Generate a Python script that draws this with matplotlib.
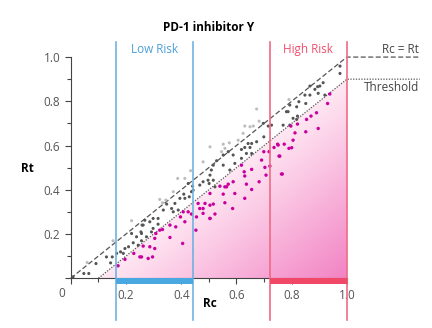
import matplotlib.pyplot as plt
import numpy as np
from matplotlib.colors import LinearSegmentedColormap
from matplotlib.patches import Polygon

plt.rcParams['font.family'] = ['Open Sans', 'DejaVu Sans']

# Points above the Rc = Rt line (light gray)
light_rc = [0.059, 0.153, 0.220, 0.322, 0.332, 0.344, 0.371, 0.387, 0.413, 0.434,
            0.479, 0.504, 0.546, 0.552, 0.558, 0.574, 0.606, 0.624, 0.630, 0.649,
            0.661, 0.673, 0.682, 0.790]
light_rt = [0.071, 0.169, 0.260, 0.356, 0.341, 0.353, 0.391, 0.451, 0.451, 0.486,
            0.526, 0.594, 0.572, 0.606, 0.587, 0.612, 0.624, 0.655, 0.688, 0.685,
            0.688, 0.765, 0.710, 0.808]

# Points between Rc = Rt and the threshold (dark gray)
dark_rc = [0.008, 0.047, 0.065, 0.091, 0.129, 0.144, 0.150, 0.166, 0.180, 0.190,
           0.196, 0.209, 0.220, 0.226, 0.238, 0.244, 0.254, 0.256, 0.258, 0.256,
           0.262, 0.268, 0.274, 0.286, 0.292, 0.298, 0.298, 0.316, 0.316, 0.335,
           0.347, 0.365, 0.371, 0.377, 0.389, 0.395, 0.409, 0.413, 0.425, 0.429,
           0.437, 0.441, 0.443, 0.467, 0.479, 0.497, 0.501, 0.504, 0.509, 0.516,
           0.516, 0.522, 0.528, 0.552, 0.552, 0.570, 0.576, 0.588, 0.594, 0.618,
           0.618, 0.630, 0.636, 0.642, 0.649, 0.655, 0.655, 0.673, 0.697, 0.699,
           0.715, 0.727, 0.769, 0.781, 0.787, 0.793, 0.793, 0.805, 0.818, 0.818,
           0.821, 0.826, 0.848, 0.851, 0.866, 0.866, 0.884, 0.894, 0.896, 0.902,
           0.914, 0.920, 0.975, 0.975]
dark_rt = [0.006, 0.021, 0.021, 0.066, 0.096, 0.069, 0.096, 0.112, 0.119, 0.112,
           0.134, 0.142, 0.202, 0.160, 0.187, 0.149, 0.209, 0.169, 0.240, 0.202,
           0.240, 0.262, 0.187, 0.255, 0.209, 0.270, 0.225, 0.270, 0.244, 0.308,
           0.335, 0.315, 0.300, 0.338, 0.308, 0.361, 0.380, 0.361, 0.428, 0.368,
           0.391, 0.416, 0.398, 0.421, 0.436, 0.443, 0.428, 0.466, 0.489, 0.511,
           0.443, 0.413, 0.531, 0.557, 0.511, 0.572, 0.489, 0.557, 0.519, 0.582,
           0.542, 0.591, 0.564, 0.609, 0.591, 0.609, 0.564, 0.617, 0.700, 0.639,
           0.688, 0.692, 0.692, 0.753, 0.753, 0.783, 0.692, 0.723, 0.775, 0.718,
           0.733, 0.798, 0.828, 0.790, 0.869, 0.828, 0.854, 0.866, 0.836, 0.869,
           0.884, 0.828, 0.959, 0.926]

# Points below the threshold (magenta)
mag_rc = [0.171, 0.196, 0.228, 0.250, 0.256, 0.262, 0.280, 0.286, 0.296, 0.304,
          0.304, 0.308, 0.322, 0.332, 0.359, 0.359, 0.380, 0.397, 0.405, 0.407,
          0.413, 0.425, 0.437, 0.453, 0.455, 0.461, 0.467, 0.479, 0.479, 0.486,
          0.504, 0.504, 0.504, 0.504, 0.516, 0.522, 0.540, 0.552, 0.558, 0.558,
          0.564, 0.570, 0.586, 0.588, 0.594, 0.618, 0.628, 0.630, 0.630, 0.636,
          0.655, 0.655, 0.682, 0.691, 0.699, 0.703, 0.707, 0.718, 0.721, 0.736,
          0.749, 0.751, 0.754, 0.757, 0.763, 0.766, 0.773, 0.790, 0.797, 0.800,
          0.805, 0.812, 0.821, 0.851, 0.854, 0.870, 0.890, 0.896, 0.930, 0.938]
mag_rt = [0.056, 0.085, 0.112, 0.096, 0.096, 0.145, 0.089, 0.142, 0.096, 0.180,
          0.134, 0.202, 0.217, 0.220, 0.240, 0.184, 0.232, 0.277, 0.157, 0.300,
          0.255, 0.300, 0.290, 0.217, 0.277, 0.338, 0.315, 0.315, 0.293, 0.338,
          0.330, 0.270, 0.383, 0.270, 0.335, 0.290, 0.416, 0.380, 0.413, 0.341,
          0.413, 0.425, 0.315, 0.436, 0.383, 0.511, 0.481, 0.462, 0.361, 0.425,
          0.492, 0.401, 0.436, 0.534, 0.572, 0.501, 0.466, 0.572, 0.507, 0.591,
          0.606, 0.602, 0.552, 0.552, 0.471, 0.471, 0.606, 0.587, 0.688, 0.590,
          0.624, 0.657, 0.697, 0.662, 0.718, 0.733, 0.748, 0.677, 0.790, 0.833]

low_risk = (0.163, 0.442)
high_risk = (0.72, 1.0)
threshold_offset = 0.1

blue = '#6fb3e0'
red = '#f06a84'

fig = plt.figure(figsize=(4.32, 3.28), dpi=100)
ax = fig.add_axes([0.164, 0.152, 0.639, 0.674])
ax.set_xlim(0, 1)
ax.set_ylim(0, 1)

# gradient fill below threshold
cmap = LinearSegmentedColormap.from_list('pinks', ['#ffe8f3', '#f283c4'])
gx, gy = np.meshgrid(np.linspace(0, 1, 200), np.linspace(0, 1, 200))
grad = np.clip(gx - gy, 0, 1)
im = ax.imshow(grad, extent=(0, 1, 0, 1), origin='lower', cmap=cmap,
               vmin=0.1, vmax=1.0, aspect='auto', zorder=0)
poly = Polygon([(threshold_offset, 0), (1, 1 - threshold_offset), (1, 0)],
               closed=True, transform=ax.transData, facecolor='none', edgecolor='none')
ax.add_patch(poly)
im.set_clip_path(poly)

# reference lines
ax.plot([0, 1, 1.264], [0, 1, 1], ls=(0, (4, 2)), color='#555555', lw=0.9, clip_on=False, zorder=2)
ax.plot([threshold_offset, 1, 1.264], [0, 1 - threshold_offset, 1 - threshold_offset],
        ls=(0, (1, 1.2)), color='#555555', lw=0.9, clip_on=False, zorder=2)

# scatter points
ax.scatter(light_rc, light_rt, s=5, color='#bdbdbd', edgecolors='none', zorder=3)
ax.scatter(dark_rc, dark_rt, s=5, color='#555555', edgecolors='none', zorder=3)
ax.scatter(mag_rc, mag_rt, s=6, color='#c8009e', edgecolors='none', zorder=3)

# risk zones
for xv in low_risk:
    ax.plot([xv, xv], [-0.19, 1.068], color=blue, lw=1.2, clip_on=False, zorder=4)
for xv in high_risk:
    ax.plot([xv, xv], [-0.19, 1.068], color=red, lw=1.2, clip_on=False, zorder=4)
ax.fill_between(low_risk, -0.027, 0, color='#4aa8e0', clip_on=False, zorder=4, lw=0)
ax.fill_between(high_risk, -0.027, 0, color='#f24868', clip_on=False, zorder=4, lw=0)

ax.text(sum(low_risk) / 2, 1.032, 'Low Risk', color='#4a9fd8', fontsize=8.5, ha='center', va='center')
ax.text(sum(high_risk) / 2, 1.032, 'High Risk', color='#f0506e', fontsize=8.5, ha='center', va='center')
ax.text(1.26, 1.032, 'Rc = Rt', color='#444444', fontsize=8.5, ha='right', va='center', clip_on=False)
ax.text(1.26, 0.862, 'Threshold', color='#444444', fontsize=8.5, ha='right', va='center', clip_on=False)
ax.text(0.5, 1.136, 'PD-1 inhibitor Y', fontsize=8.5, fontweight='bold', ha='center', va='center')

# axes styling
ax.spines['top'].set_visible(False)
ax.spines['right'].set_visible(False)
ax.spines['left'].set_color('#444444')
ax.spines['bottom'].set_color('#444444')
ax.set_xticks([0, 0.2, 0.4, 0.6, 0.8, 1.0])
ax.set_xticklabels(['', '0.2', '0.4', '0.6', '0.8', '1.0'])
ax.set_yticks([0, 0.2, 0.4, 0.6, 0.8, 1.0])
ax.set_yticklabels(['', '0.2', '0.4', '0.6', '0.8', '1.0'])
ax.set_xticks(np.arange(0.1, 1.0, 0.2), minor=True)
ax.set_yticks(np.arange(0.1, 1.0, 0.2), minor=True)
ax.tick_params(which='both', colors='#444444', labelcolor='#555555', labelsize=8.5, length=4, width=0.8)
ax.tick_params(which='minor', length=3)
ax.text(-0.033, -0.04, '0', transform=ax.transAxes, ha='center', va='top', fontsize=8.5, color='#555555')
ax.text(-0.156, 0.498, 'Rt', transform=ax.transAxes, ha='center', va='center', fontsize=8.5, fontweight='bold')
ax.text(0.504, -0.113, 'Rc', transform=ax.transAxes, ha='center', va='center', fontsize=8.5, fontweight='bold')

fig.savefig('out.png', dpi=100)
